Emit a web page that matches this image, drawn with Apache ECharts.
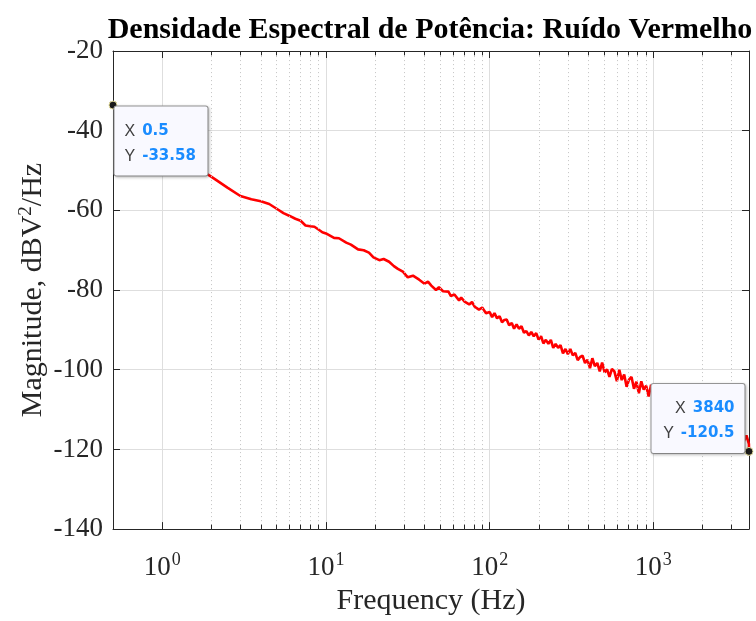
<!DOCTYPE html>
<html>
<head>
<meta charset="utf-8">
<script src="https://cdn.jsdelivr.net/npm/echarts@6/dist/echarts.min.js"></script>
<style>html,body{margin:0;padding:0;background:#fff}#c{width:756px;height:621px}</style>
</head>
<body>
<div id="c"></div>
<script>
// ---- data ----
const titleText = 'Densidade Espectral de Potência: Ruído Vermelho';
const xName = 'Frequency (Hz)';
const freq = [
  0.5, 1, 1.5, 2, 2.5, 3, 3.5, 4, 4.5, 5, 5.5, 6, 6.5, 7, 7.5, 8, 8.5, 9, 9.5,
  10, 11.2, 12, 13.3, 14.2, 15.7, 17, 18.3, 19.5, 21.2, 22.5, 24.3, 26, 27.5, 29.5,
  31.6, 34, 37.1, 40, 42, 44, 47, 49, 51.9, 56, 58, 60.9, 65, 67, 70.3, 75, 78, 81.1, 86, 90, 95,
  100, 103.5, 107, 111, 115, 119, 123, 127, 131.5, 136.5,
  141, 146, 151, 156.5, 162, 167.5, 173.5, 179.5, 186, 192.5,
  199, 206, 213, 220.5, 228.5, 236.5, 244.5, 253, 262, 271,
  280.5, 290.5, 300.5, 311, 322, 333.5, 345, 357, 369.5, 382.5,
  396, 410, 424, 439, 454.5, 470.5, 486.5, 504, 521.5, 539.5,
  558.5, 578, 598.5, 619.5, 641, 663.5, 686.5, 710.5, 735.5, 761.5,
  788, 815.5, 844, 873.5, 904, 936, 968.5, 1002.5, 1037.5, 1074,
  1111.5, 1150.5, 1190.5, 1232.5, 1275.5, 1320, 1366.5, 1414, 1463.5, 1515,
  1568, 1622.5, 1679.5, 1738.5, 1799, 1862, 1927.5, 1994.5, 2064.5, 2137,
  2211.5, 2289, 2369, 2452, 2538, 2626.5, 2718.5, 2813.5, 2912, 3014,
  3119.5, 3229, 3342, 3459, 3580, 3705, 3835, 3840
];
const magDb = [
  -33.58, -42.8, -48.3, -51.6, -54.3, -56.4, -57.2, -57.7, -58.4, -59.6, -60.7, -61.4, -62.1, -62.6, -63.8, -64.0, -64.1, -64.8, -65.5,
  -65.8, -66.9, -67.0, -68.1, -68.6, -69.8, -70.0, -70.6, -71.8, -72.5, -72.2, -72.9, -74.0, -74.7, -75.4,
  -76.8, -76.4, -77.4, -78.4, -77.9, -78.9, -80.0, -79.3, -80.3, -80.4, -81.5, -81.1, -82.6, -81.9, -82.9, -83.6, -83.0, -84.2, -84.9, -84.4, -85.8,
  -85.5, -86.8, -85.8, -87.1, -86.6, -88.1, -87.5, -87.4, -88.8, -88.3,
  -89.7, -88.6, -89.7, -89.1, -90.7, -90.3, -91.4, -90.5, -91.6, -90.8,
  -92.4, -91.6, -93.4, -92.5, -93.5, -92.5, -94.5, -93.5, -94.5, -93.8,
  -95.9, -94.8, -96.1, -94.8, -96.4, -95.8, -97.6, -96.8, -96.5, -98.3,
  -97.5, -99.6, -97.1, -99.1, -98.3, -100.4, -98.2, -100.7, -99.9, -101.8,
  -99.8, -100.4, -102.9, -100.0, -102.6, -101.2, -104.3, -102.5, -101.8, -104.8,
  -103.0, -105.9, -102.9, -105.0, -104.0, -106.7, -103.8, -106.7, -105.6, -108.2,
  -105.5, -107.8, -105.7, -109.2, -107.6, -109.3, -107.1, -110.7, -108.4, -109.2,
  -111.2, -108.4, -111.5, -110.0, -112.7, -109.9, -112.0, -110.8, -113.7, -110.7,
  -113.6, -112.8, -115.2, -112.2, -114.6, -112.9, -116.2, -114.0, -115.4, -113.9,
  -117.1, -115.4, -117.6, -114.9, -117.9, -116.5, -118.6, -120.5
];
const xMin = 0.5, xMax = 3840;
const yMin = -140, yMax = -20, yStep = 20;
const minorFreqs = [2,3,4,5,6,7,8,9,20,30,40,50,60,70,80,90,200,300,400,500,600,700,800,900,2000,3000];
const tipIndex = [0, freq.length - 1];

// ---- styles ----
const serif = 'Liberation Serif, Times New Roman, serif';
const sans = 'DejaVu Sans, Liberation Sans, sans-serif';
const sans2 = 'Liberation Sans, Arial, sans-serif';
const axisColor = '#262626';
const majorGrid = '#dedede';
const minorGrid = '#c4c4c4';

const lineData = freq.map((f, i) => [f, magDb[i]]);

function xLabel(v) {
  const e = Math.round(Math.log10(v));
  if (Math.abs(v - Math.pow(10, e)) / v > 1e-6) return '';
  return '{b|10}{s|' + e + '}';
}

const minorLines = minorFreqs.map(f => ({ xAxis: f }));
const minorTicks = [];
minorFreqs.forEach(f => {
  minorTicks.push([{ coord: [f, yMin] }, { coord: [f, yMin + 1.1] }]);
  minorTicks.push([{ coord: [f, yMax] }, { coord: [f, yMax - 1.1] }]);
});

const tipLabelBase = {
  show: true,
  formatter: p => '{k|X}{v|' + p.value[0] + '}\n{k|Y}{v|' + p.value[1] + '}',
  backgroundColor: '#f9f9ff', borderColor: '#9a9a9a', borderWidth: 1, borderRadius: 2,
  shadowColor: 'rgba(0,0,0,0.22)', shadowBlur: 3, shadowOffsetX: 1, shadowOffsetY: 1,
  padding: [12, 10, 7, 10], width: 73, lineHeight: 25,
  rich: {
    k: { fontFamily: sans2, fontSize: 16, color: '#404040', lineHeight: 25 },
    v: { fontFamily: sans, fontSize: 15, color: '#1a8cff', fontWeight: 'bold', lineHeight: 25, padding: [0, 0, 0, 7] }
  }
};
const tipData = tipIndex.map((i, k) => ({
  value: [freq[i], magDb[i]],
  label: k === 0
    ? { position: [6, 6], align: 'left', verticalAlign: 'top' }
    : { position: [0, 6], align: 'right', verticalAlign: 'bottom' }
}));

const chart = echarts.init(document.getElementById('c'), null, { renderer: 'canvas' });
chart.setOption({
  backgroundColor: '#ffffff',
  animation: false,
  title: {
    text: titleText,
    left: 425, top: 10, textAlign: 'center',
    textStyle: { fontFamily: serif, fontWeight: 'bold', fontSize: 30, color: '#000' }
  },
  grid: { left: 113, right: 7, top: 51, bottom: 86, containLabel: false },
  xAxis: [{
    type: 'log', logBase: 10, min: xMin, max: xMax,
    name: xName, nameLocation: 'middle', nameGap: 54,
    nameTextStyle: { fontFamily: serif, fontSize: 30, color: axisColor },
    axisLine: { lineStyle: { color: axisColor, width: 1 } },
    axisTick: { inside: true, length: 7, lineStyle: { color: axisColor } },
    axisLabel: {
      formatter: xLabel, margin: 22, showMinLabel: false, showMaxLabel: false,
      rich: {
        b: { fontFamily: serif, fontSize: 27, color: axisColor, lineHeight: 30, verticalAlign: 'bottom' },
        s: { fontFamily: serif, fontSize: 18, color: axisColor, lineHeight: 30, verticalAlign: 'top', padding: [0, 0, 0, 1] }
      }
    },
    splitLine: { show: true, lineStyle: { color: majorGrid, width: 1 } }
  }, {
    type: 'log', logBase: 10, min: xMin, max: xMax, position: 'top',
    axisLine: { lineStyle: { color: axisColor, width: 1 } },
    axisTick: { inside: true, length: 7, lineStyle: { color: axisColor } },
    axisLabel: { show: false }, splitLine: { show: false }
  }],
  yAxis: [{
    type: 'value', min: yMin, max: yMax, interval: yStep,
    name: 'Magnitude, dBV{sup|2}/Hz', nameLocation: 'middle', nameGap: 64, nameRotate: 90,
    nameMoveOverlap: false,
    nameTextStyle: {
      fontFamily: serif, fontSize: 30, color: axisColor,
      rich: { sup: { fontFamily: serif, fontSize: 19, color: axisColor, verticalAlign: 'top', lineHeight: 32 } }
    },
    axisLine: { show: true, lineStyle: { color: axisColor, width: 1 } },
    axisTick: { show: true, inside: true, length: 7, lineStyle: { color: axisColor } },
    axisLabel: { fontFamily: serif, fontSize: 27, color: axisColor, margin: 10 },
    splitLine: { show: true, lineStyle: { color: majorGrid, width: 1 } }
  }, {
    type: 'value', min: yMin, max: yMax, interval: yStep, position: 'right',
    axisLine: { show: true, lineStyle: { color: axisColor, width: 1 } },
    axisTick: { show: true, inside: true, length: 7, lineStyle: { color: axisColor } },
    axisLabel: { show: false }, splitLine: { show: false }
  }],
  series: [{
    type: 'line', name: 'grid-deco', data: [], silent: true, z: 1,
    markLine: {
      silent: true, symbol: 'none', animation: false, label: { show: false },
      data: minorLines,
      lineStyle: { color: minorGrid, type: [1, 3], width: 1 }
    }
  }, {
    type: 'line', name: 'grid-ticks', data: [], silent: true, z: 3,
    markLine: {
      silent: true, symbol: 'none', animation: false, label: { show: false },
      data: minorTicks,
      lineStyle: { color: axisColor, type: 'solid', width: 1 }
    }
  }, {
    type: 'line', name: 'PSD', data: lineData, showSymbol: false, symbol: 'none',
    lineStyle: { color: '#ff0000', width: 2.6 }, z: 4, silent: true, clip: true
  }, {
    type: 'scatter', name: 'tips', data: tipData, z: 10, clip: false, silent: true,
    symbol: 'circle', symbolSize: 8,
    itemStyle: { color: '#1a1a1a', borderColor: '#e8e0a0', borderWidth: 1, opacity: 1 },
    label: tipLabelBase
  }]
});
</script>
</body>
</html>
